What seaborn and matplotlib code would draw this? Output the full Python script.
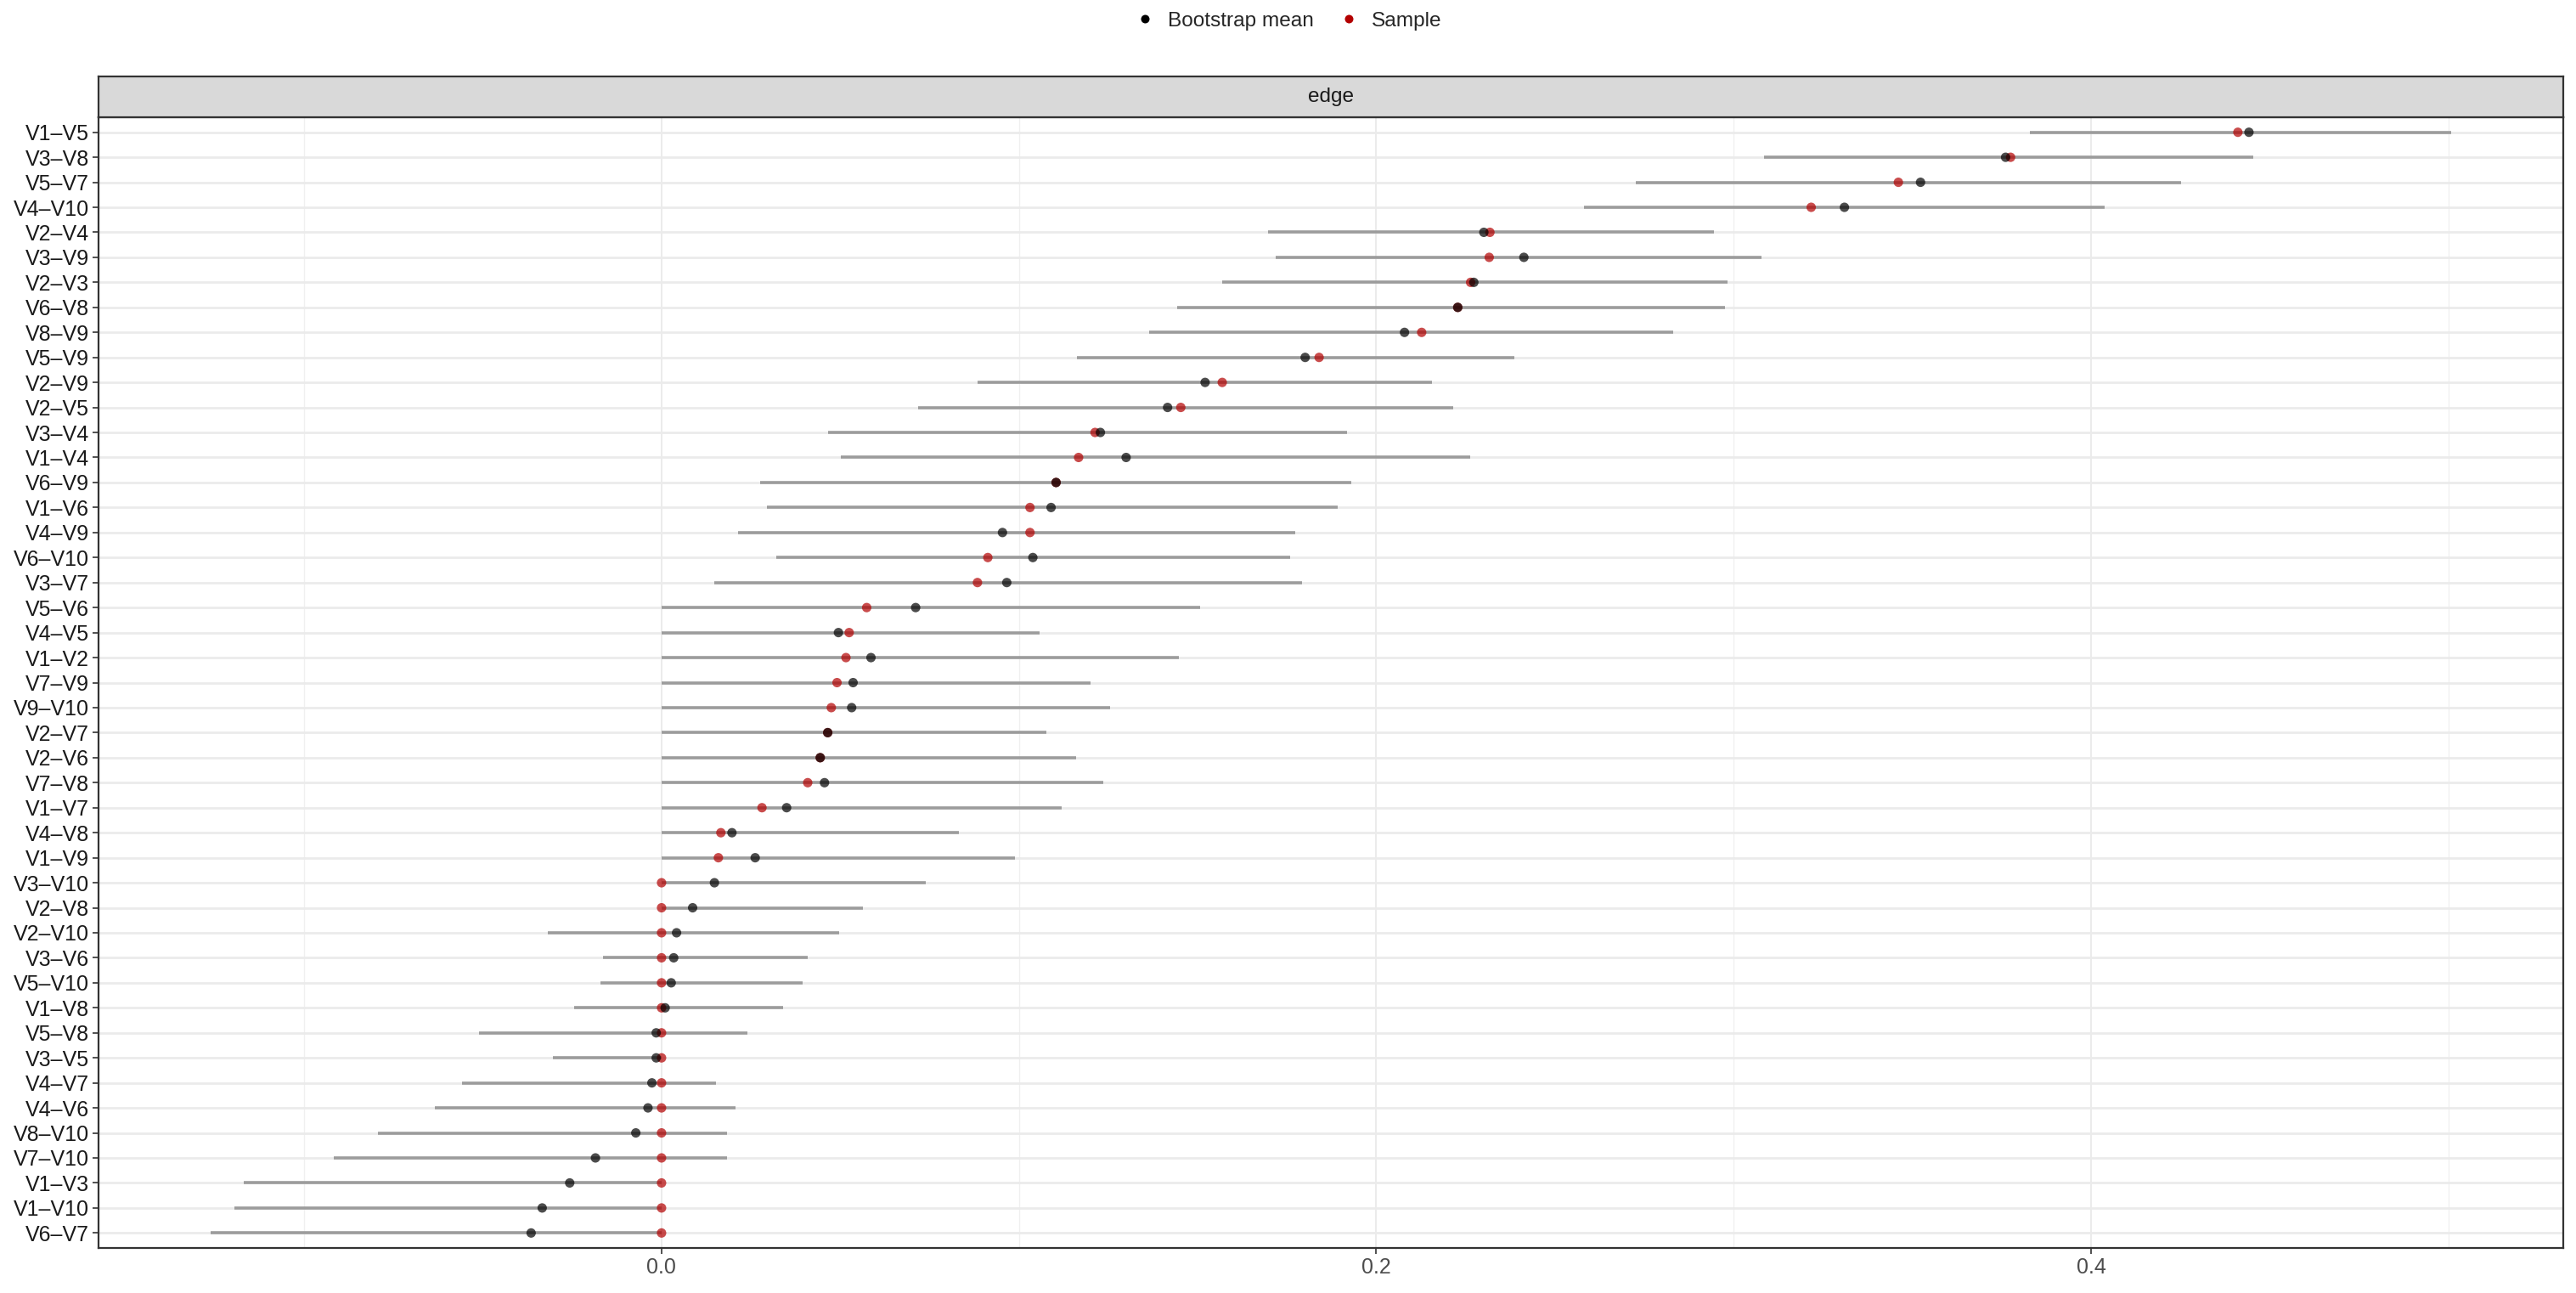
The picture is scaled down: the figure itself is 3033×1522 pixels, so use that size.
import numpy as np
import pandas as pd
import seaborn as sns
import matplotlib.pyplot as plt
from matplotlib.ticker import MultipleLocator


edges = ["V1–V5", "V3–V8", "V5–V7", "V4–V10", "V2–V4", "V3–V9", "V2–V3", "V6–V8",
         "V8–V9", "V5–V9", "V2–V9", "V2–V5", "V3–V4", "V1–V4", "V6–V9", "V1–V6",
         "V4–V9", "V6–V10", "V3–V7", "V5–V6", "V4–V5", "V1–V2", "V7–V9", "V9–V10",
         "V2–V7", "V2–V6", "V7–V8", "V1–V7", "V4–V8", "V1–V9", "V3–V10", "V2–V8",
         "V2–V10", "V3–V6", "V5–V10", "V1–V8", "V5–V8", "V3–V5", "V4–V7", "V4–V6",
         "V8–V10", "V7–V10", "V1–V3", "V1–V10", "V6–V7"]

sample = [0.4411, 0.3775, 0.3461, 0.3217, 0.2318, 0.2316, 0.2264, 0.2228, 0.2127, 0.1840,
          0.1569, 0.1453, 0.1213, 0.1167, 0.1104, 0.1031, 0.1031, 0.0913, 0.0884, 0.0574,
          0.0525, 0.0516, 0.0491, 0.0475, 0.0465, 0.0444, 0.0409, 0.0281, 0.0166, 0.0159,
          0.0, 0.0, 0.0, 0.0, 0.0, 0.0, 0.0, 0.0, 0.0, 0.0,
          0.0, 0.0, 0.0, 0.0, 0.0]

boot_mean = [0.4442, 0.3761, 0.3523, 0.3310, 0.2301, 0.2413, 0.2273, 0.2228, 0.2079, 0.1801,
             0.1521, 0.1416, 0.1228, 0.1300, 0.1104, 0.1090, 0.0954, 0.1039, 0.0966, 0.0711,
             0.0495, 0.0586, 0.0536, 0.0532, 0.0465, 0.0444, 0.0456, 0.0350, 0.0197, 0.0262,
             0.0148, 0.0087, 0.0042, 0.0034, 0.0027, 0.0010, -0.0015, -0.0015, -0.0027, -0.0038,
             -0.0072, -0.0185, -0.0257, -0.0334, -0.0365]

ci_lower = [0.3828, 0.3085, 0.2727, 0.2581, 0.1698, 0.1718, 0.1569, 0.1443, 0.1364, 0.1162,
            0.0884, 0.0717, 0.0465, 0.0501, 0.0276, 0.0295, 0.0213, 0.0322, 0.0148, 0.0,
            0.0, 0.0, 0.0, 0.0, 0.0, 0.0, 0.0, 0.0, 0.0, 0.0,
            0.0, 0.0, -0.0319, -0.0163, -0.0172, -0.0244, -0.0510, -0.0304, -0.0559, -0.0634,
            -0.0793, -0.0918, -0.1168, -0.1195, -0.1262]

ci_upper = [0.5008, 0.4453, 0.4252, 0.4039, 0.2945, 0.3077, 0.2982, 0.2976, 0.2830, 0.2387,
            0.2157, 0.2215, 0.1918, 0.2262, 0.1930, 0.1891, 0.1772, 0.1758, 0.1792, 0.1507,
            0.1058, 0.1447, 0.1200, 0.1256, 0.1078, 0.1160, 0.1236, 0.1119, 0.0831, 0.0989,
            0.0739, 0.0563, 0.0496, 0.0410, 0.0395, 0.0339, 0.0240, 0.0, 0.0153, 0.0208,
            0.0183, 0.0183, 0.0, 0.0, 0.0]

df = pd.DataFrame({'edge': edges, 'Sample': sample, 'Bootstrap mean': boot_mean,
                   'lower': ci_lower, 'upper': ci_upper})
# sample rows first so the bootstrap dots sit on top
long = df.melt(id_vars='edge', value_vars=['Sample', 'Bootstrap mean'],
               var_name='type', value_name='value')

sns.set_theme(style='white')
plt.rcParams['font.family'] = ['Liberation Sans', 'DejaVu Sans']

fig = plt.figure(figsize=(3033 / 200, 1522 / 200), dpi=200)
ax = fig.add_axes([0.03825, 0.03482, 0.9568, 0.8745])

pos = np.arange(len(edges))
ax.hlines(pos, df['lower'], df['upper'], color='#9c9c9c', lw=1.3, zorder=2)

sns.stripplot(data=long, x='value', y='edge', hue='type', order=edges,
              hue_order=['Bootstrap mean', 'Sample'],
              palette={'Bootstrap mean': 'black', 'Sample': '#b30000'},
              jitter=False, dodge=False, size=4, alpha=0.7, linewidth=0,
              ax=ax, zorder=3)

lo = min(df['lower'].min(), df['Bootstrap mean'].min())
hi = max(df['upper'].max(), df['Bootstrap mean'].max())
span = hi - lo
ax.set_xlim(lo - 0.05 * span, hi + 0.05 * span)
ax.set_ylim(len(edges) - 1 + 0.6, -0.6)

ax.set_xticks([0.0, 0.2, 0.4])
ax.set_xticklabels(['0.0', '0.2', '0.4'])
ax.xaxis.set_minor_locator(MultipleLocator(0.1))
ax.set_axisbelow(True)
ax.grid(axis='y', which='major', color='#ebebeb', lw=1.0)
ax.grid(axis='x', which='major', color='#ebebeb', lw=0.7)
ax.grid(axis='x', which='minor', color='#f0f0f0', lw=0.5)
ax.set_xlabel('')
ax.set_ylabel('')

for sp in ax.spines.values():
    sp.set_visible(True)
    sp.set_color('#333333')
    sp.set_linewidth(0.8)

ax.tick_params(axis='both', which='major', length=2.5, width=0.6, color='#333333',
               pad=1.5, labelsize=9, left=True, bottom=True)
ax.tick_params(axis='x', which='minor', length=0)
ax.tick_params(axis='x', labelcolor='#4d4d4d')
ax.tick_params(axis='y', labelcolor='#1a1a1a')

# facet strip
sax = fig.add_axes([0.03825, 0.9093, 0.9568, 0.0315])
sax.set_facecolor('#d9d9d9')
sax.set_xticks([])
sax.set_yticks([])
for sp in sax.spines.values():
    sp.set_color('#333333')
    sp.set_linewidth(0.8)
sax.text(0.5, 0.5, 'edge', ha='center', va='center', fontsize=8.8,
         color='#1a1a1a', transform=sax.transAxes)

handles, labels = ax.get_legend_handles_labels()
ax.legend_.remove()
for h in handles:
    h.set_alpha(1)
fig.legend(handles, labels, loc='center', bbox_to_anchor=(0.5, 1 - 25 / 1522),
           ncol=2, frameon=False, fontsize=8.8, handlelength=1.0,
           handletextpad=0.6, columnspacing=1.2, markerscale=0.9)

fig.savefig('out.png', dpi=200)
